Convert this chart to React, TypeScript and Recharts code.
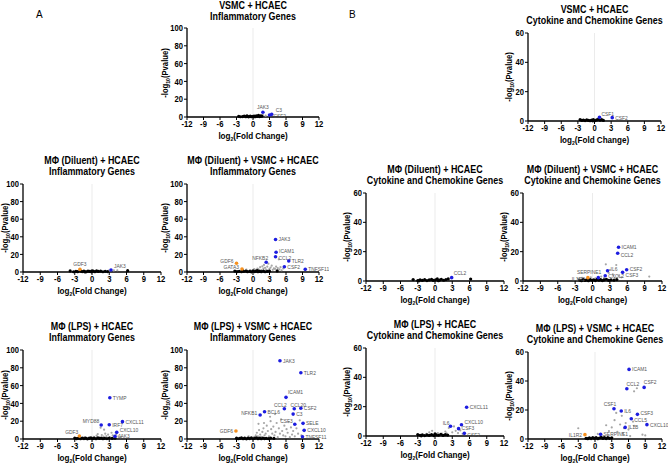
import React from "react";
import { ScatterChart, Scatter, XAxis, YAxis, ReferenceLine } from "recharts";

type Pt = [number, number];
type Gene = { gene: string; x: number; y: number };
type Offset = [number, number, "start" | "middle" | "end"];

const FONT = "'Liberation Sans', Arial, sans-serif";
const BLUE = "#1d1de0";
const ORANGE = "#f5901e";
const GREY = "#a6a6a6";
const SQUEEZE = 0.85;

const xTicks = [-12, -9, -6, -3, 0, 3, 6, 9, 12];
const inflTicks = [0, 20, 40, 60, 80, 100];
const cytoTicks = [0, 20, 40, 60];

// ---- A: VSMC + HCAEC, inflammatory
const aTopBlack: Pt[] = [
  [-2.6, 0.8], [-2.3, 0.3], [-1.9, 0.5], [-1.6, 1.0], [-1.3, 0.4], [-1.1, 1.3], [-1.0, 0.7],
  [-0.8, 0.2], [-0.5, 0.9], [-0.3, 0.4], [0, 0.6], [0.1, 0.2], [0.2, 1.1], [0.4, 0.3],
  [0.6, 1.4], [0.8, 0.7], [1.0, 1.8], [1.2, 0.5], [1.4, 1.2], [1.6, 0.9],
];
const aTopGrey: Pt[] = [[1.8, 2.2], [2.3, 1.5]];
const aTopBlue: Gene[] = [
  { gene: "JAK3", x: 1.8, y: 5.3 },
  { gene: "C3", x: 3.4, y: 3.0 },
  { gene: "CSF2", x: 3.0, y: 2.2 },
];

// ---- A: MΦ (Diluent) + HCAEC, inflammatory
const aMidLBlack: Pt[] = [
  [-3.8, 1.2], [-3.2, 0.3], [-2.8, 0.8], [-2.5, 0.4], [-2.0, 1.0], [-1.7, 0.5], [-1.4, 0.9],
  [-1.2, 0.1], [-1.0, 0.3], [-0.7, 1.1], [-0.4, 0.6], [-0.1, 0.2], [0, 1.4], [0.2, 0.9],
  [0.5, 0.4], [0.8, 1.2], [1.1, 0.6], [1.5, 0.9], [1.9, 0.3], [2.3, 0.8], [2.7, 0.5], [6.2, 1.5],
];
const aMidLGrey: Pt[] = [[2.9, 1.5], [3.8, 1.8], [4.4, 2.0]];
const aMidLBlue: Gene[] = [{ gene: "JAK3", x: 3.3, y: 2.3 }];
const aMidLOrange: Gene[] = [{ gene: "GDF3", x: -2.1, y: 3.0 }];

// ---- A: MΦ (Diluent) + VSMC + HCAEC, inflammatory
const aMidRBlack: Pt[] = [
  [-3.3, 1.0], [-2.9, 0.4], [-2.5, 0.8], [-2.1, 0.3], [-1.9, 1.5], [-1.7, 0.6], [-1.3, 1.1],
  [-1.0, 0.4], [-0.6, 0.8], [-0.3, 0.2], [0, 1.2], [0.3, 0.5], [0.6, 0.9], [0.8, 1.6],
  [0.9, 0.3], [1.2, 0.7], [1.5, 0.4], [1.9, 1.0], [2.2, 0.3], [2.6, 0.6], [3.0, 0.9], [4.4, 1.2],
];
const aMidRGrey: Pt[] = [
  [-1.2, 2.8], [-0.5, 2.2], [0.2, 3.2], [0.5, 2.5], [0.8, 4.0], [1.0, 3.0], [1.1, 1.8],
  [1.3, 5.5], [1.5, 2.2], [1.7, 6.5], [1.9, 3.8], [2.0, 8.0], [2.2, 4.8], [2.4, 2.8],
  [2.6, 6.0], [2.8, 9.5], [2.9, 2.0], [3.0, 3.5], [3.2, 5.0], [3.4, 7.2], [3.6, 2.5],
  [3.8, 4.2], [4.0, 3.5], [4.2, 6.0], [4.5, 4.5], [4.7, 14.4], [4.8, 3.0], [5.0, 5.5],
  [5.2, 2.0], [5.5, 4.0],
];
const aMidRBlue: Gene[] = [
  { gene: "JAK3", x: 4.1, y: 37 },
  { gene: "ICAM1", x: 4.2, y: 22.4 },
  { gene: "CCL2", x: 4.1, y: 17.4 },
  { gene: "TLR2", x: 6.5, y: 12.5 },
  { gene: "NFKB2", x: 2.4, y: 11 },
  { gene: "CSF2", x: 5.7, y: 6 },
  { gene: "TNFSF11", x: 9.5, y: 3 },
];
const aMidROrange: Gene[] = [
  { gene: "GDF6", x: -3.0, y: 10 },
  { gene: "GATA3", x: -2.0, y: 3.4 },
];

// ---- A: MΦ (LPS) + HCAEC, inflammatory
const aBotLBlack: Pt[] = [
  [-3.0, 1.0], [-2.7, 0.4], [-2.4, 0.8], [-2.0, 0.3], [-1.7, 1.1], [-1.4, 0.5], [-1.1, 0.9],
  [-0.8, 0.2], [-0.5, 0.7], [-0.2, 1.2], [0.1, 0.4], [0.4, 0.9], [0.7, 0.3], [1.0, 1.3],
  [1.3, 0.6], [1.6, 1.0], [1.9, 0.4], [2.2, 0.8], [2.6, 0.5], [3.0, 1.0], [3.5, 0.6], [4.0, 0.9],
];
const aBotLGrey: Pt[] = [
  [-1.3, 2.2], [-0.5, 1.8], [0.3, 2.5], [0.8, 3.8], [1.0, 5.5], [1.2, 1.9], [1.5, 12.7],
  [1.7, 4.5], [2.0, 2.8], [2.1, 10.5], [2.3, 6.0], [2.5, 3.2], [2.8, 5.0], [3.1, 2.0],
  [3.4, 7.0], [3.6, 4.0], [3.9, 2.5], [4.2, 5.5], [4.6, 3.0], [5.0, 2.2],
];
const aBotLBlue: Gene[] = [
  { gene: "TYMP", x: 3.1, y: 46.4 },
  { gene: "MYD88", x: 1.6, y: 15.7 },
  { gene: "IRF7", x: 3.0, y: 16 },
  { gene: "CXCL11", x: 5.3, y: 19.5 },
  { gene: "CXCL10", x: 4.3, y: 7.5 },
  { gene: "JAK3", x: 4.0, y: 3 },
];
const aBotLOrange: Gene[] = [{ gene: "GDF3", x: -2.2, y: 3.4 }];

// ---- A: MΦ (LPS) + VSMC + HCAEC, inflammatory
const aBotRBlack: Pt[] = [
  [-3.0, 0.9], [-2.7, 0.3], [-2.4, 0.7], [-2.1, 1.2], [-1.8, 0.4], [-1.5, 0.8], [-1.2, 0.2],
  [-0.9, 1.0], [-0.6, 0.5], [-0.3, 1.3], [0, 0.3], [0.3, 0.8], [0.6, 1.4], [0.9, 0.4],
  [1.2, 0.9], [1.5, 0.3], [1.8, 1.1], [2.1, 0.5], [2.4, 0.8], [2.8, 0.4], [3.2, 1.0], [3.8, 0.6],
];
const aBotRGrey: Pt[] = [
  [-1.5, 2], [-0.8, 3], [0.2, 2], [0.4, 1.5], [0.5, 4], [0.7, 7], [0.9, 3], [1.0, 17],
  [1.1, 10], [1.3, 5], [1.5, 2.5], [1.7, 8], [1.9, 12], [2.0, 18], [2.1, 4], [2.3, 6],
  [2.5, 15], [2.7, 9], [2.9, 3], [3.1, 25], [3.2, 20], [3.3, 11], [3.5, 6], [3.7, 14],
  [3.9, 4], [4.0, 28], [4.1, 8], [4.3, 18], [4.5, 2], [4.7, 12], [4.9, 6], [5.1, 22],
  [5.3, 9], [5.5, 4], [5.7, 15], [5.9, 3], [6.1, 11], [6.3, 7], [6.5, 19], [6.7, 2],
  [6.9, 13], [7.1, 5], [7.3, 9], [7.6, 3], [7.9, 12], [8.2, 6], [8.5, 21], [8.8, 4],
];
const aBotRBlue: Gene[] = [
  { gene: "JAK3", x: 4.9, y: 88 },
  { gene: "TLR2", x: 8.7, y: 74.5 },
  { gene: "ICAM1", x: 6.0, y: 46.8 },
  { gene: "CCL2", x: 5.7, y: 34 },
  { gene: "CCL20", x: 7.5, y: 34 },
  { gene: "CSF2", x: 8.7, y: 34.5 },
  { gene: "C3", x: 7.3, y: 28 },
  { gene: "BCL6", x: 2.1, y: 30.7 },
  { gene: "NFKB1", x: 1.3, y: 27 },
  { gene: "CSF3", x: 7.6, y: 16.5 },
  { gene: "SELE", x: 9.1, y: 17.6 },
  { gene: "CXCL10", x: 9.3, y: 9.7 },
  { gene: "TNFSF11", x: 9.0, y: 2.6 },
];
const aBotROrange: Gene[] = [{ gene: "GDF6", x: -3.1, y: 9 }];

// ---- B: VSMC + HCAEC, cytokine/chemokine
const bTopBlack: Pt[] = [
  [-2.6, 0.9], [-2.3, 0.4], [-2.0, 0.6], [-1.7, 0.3], [-1.4, 0.7], [-1.1, 0.4], [-0.8, 0.2],
  [-0.5, 0.6], [-0.3, 0.1], [-0.2, 0.9], [0.1, 0.3], [0.4, 0.7], [0.7, 1.2], [1.0, 0.5],
  [1.3, 1.0], [1.6, 0.4],
];
const bTopBlue: Gene[] = [
  { gene: "CSF1", x: 0.9, y: 2.5 },
  { gene: "CSF2", x: 3.2, y: 2.3 },
];

// ---- B: MΦ (Diluent) + HCAEC
const bMidLBlack: Pt[] = [
  [-3.8, 1.0], [-3.0, 0.3], [-2.8, 0.1], [-2.6, 0.8], [-2.2, 0.4], [-1.8, 0.9], [-1.4, 0.3],
  [-1.0, 0.7], [-0.6, 1.1], [-0.3, 0.4], [0.1, 0.8], [0.4, 1.4], [0.6, 0.2], [0.8, 0.6],
  [1.1, 1.2], [1.5, 0.5], [1.9, 1.0], [2.3, 1.4], [6.2, 1.3],
];
const bMidLBlue: Gene[] = [{ gene: "CCL2", x: 2.9, y: 2.3 }];

// ---- B: MΦ (Diluent) + VSMC + HCAEC
const bMidRBlack: Pt[] = [
  [-2.2, 0.6], [-1.9, 0.2], [-1.6, 0.9], [-1.3, 0.4], [-1.0, 0.7], [-0.7, 0.2], [-0.4, 1.0],
  [-0.1, 0.5], [0.2, 0.8], [0.5, 0.3], [0.8, 1.1], [1.1, 0.5], [1.4, 0.9], [1.7, 0.3],
  [2.0, 0.7], [2.4, 1.2], [2.8, 0.4], [3.2, 0.8], [3.7, 0.5], [4.2, 1.0],
];
const bMidRGrey: Pt[] = [
  [-2.5, 1.5], [-1.8, 2.2], [-0.3, 2.5], [0.5, 1.8], [1.5, 3.0], [2.0, 2.0], [2.3, 11.4],
  [2.8, 5.5], [3.0, 7.5], [3.5, 4.5], [3.8, 1.9], [4.1, 10.9], [4.5, 3.5], [5.0, 2.5], [9.8, 3.0],
];
const bMidRBlue: Gene[] = [
  { gene: "ICAM1", x: 4.5, y: 23 },
  { gene: "CCL2", x: 4.35, y: 18.9 },
  { gene: "CSF2", x: 5.9, y: 7.7 },
  { gene: "CSF3", x: 5.2, y: 5.9 },
  { gene: "IL6", x: 2.6, y: 7 },
  { gene: "CXCL2", x: 2.2, y: 3.6 },
  { gene: "SERPINE1", x: 1.0, y: 2.3 },
];
const bMidROrange: Gene[] = [{ gene: "IL1R2", x: -0.8, y: 2.3 }];

// ---- B: MΦ (LPS) + HCAEC
const bBotLBlack: Pt[] = [
  [-3.0, 1.0], [-2.6, 0.5], [-2.4, 0.1], [-2.2, 0.8], [-1.8, 0.3], [-1.4, 0.7], [-1.0, 0.4],
  [-0.6, 1.0], [-0.2, 0.3], [0, 1.4], [0.2, 0.8], [0.6, 0.5], [1.0, 1.2], [1.4, 0.4],
  [1.8, 0.9], [2.2, 0.6],
];
const bBotLGrey: Pt[] = [
  [-1.5, 1.5], [-1.0, 2.5], [-0.5, 3.5], [0.5, 2.0], [1.2, 1.6], [1.8, 3.0], [2.0, 1.8],
  [2.4, 5.5], [3.0, 2.5], [3.3, 6.5], [3.6, 3.5], [4.0, 2.0], [4.4, 3.8], [4.8, 1.5],
];
const bBotLBlue: Gene[] = [
  { gene: "CXCL11", x: 5.5, y: 19.6 },
  { gene: "CXCL10", x: 4.6, y: 7.7 },
  { gene: "CSF3", x: 4.1, y: 5 },
  { gene: "IL6", x: 2.7, y: 6.6 },
  { gene: "CSF2", x: 5.1, y: 1.8 },
];

// ---- B: MΦ (LPS) + VSMC + HCAEC
const bBotRBlack: Pt[] = [
  [-1.6, 0.5], [-1.3, 0.2], [-1.0, 0.8], [-0.7, 0.3], [-0.4, 1.0], [-0.1, 0.4], [0.2, 0.9],
  [0.5, 0.2], [0.8, 0.7], [1.1, 1.2], [1.4, 0.4], [1.7, 0.9], [2.0, 0.3], [2.3, 1.0],
  [2.6, 0.5], [3.0, 0.8],
];
const bBotRGrey: Pt[] = [
  [-3.0, 7.4], [0.5, 3.5], [1.5, 2.0], [2.0, 9.5], [2.5, 5.5], [3.0, 8.0], [3.5, 13],
  [3.8, 18], [4.0, 5.0], [4.5, 10], [4.8, 16], [5.0, 4.0], [5.2, 7.5], [5.5, 11],
  [6.0, 6.5], [6.3, 2.0], [6.8, 12], [7.0, 9.0], [7.0, 32.9], [7.5, 35], [8.5, 3.0], [9.0, 2.5],
];
const bBotRBlue: Gene[] = [
  { gene: "ICAM1", x: 6.1, y: 48 },
  { gene: "CCL2", x: 5.7, y: 34.7 },
  { gene: "CSF2", x: 8.8, y: 35.6 },
  { gene: "CSF1", x: 3.4, y: 20.9 },
  { gene: "IL6", x: 4.7, y: 19.3 },
  { gene: "CSF3", x: 7.6, y: 17 },
  { gene: "CCL5", x: 6.5, y: 14 },
  { gene: "IL1B", x: 5.4, y: 8 },
  { gene: "CXCL10", x: 9.3, y: 9.9 },
  { gene: "SERPINE1", x: 1.0, y: 3.2 },
];
const bBotROrange: Gene[] = [{ gene: "IL1R2", x: -1.8, y: 3 }];

type Panel = {
  title: string;
  subtitle: string;
  px: number;
  py: number;
  pw: number;
  ph: number;
  yMax: number;
  yTicks: number[];
  black: Pt[];
  grey: Pt[];
  blue: Gene[];
  orange: Gene[];
  offsets: Record<string, Offset>;
};

const INFL = "Inflammatory Genes";
const CYTO = "Cytokine and Chemokine Genes";

const panels: Panel[] = [
  {
    title: "VSMC + HCAEC", subtitle: INFL, px: 187, py: 28, pw: 132, ph: 89,
    yMax: 100, yTicks: inflTicks, black: aTopBlack, grey: aTopGrey, blue: aTopBlue, orange: [],
    offsets: { JAK3: [0, -5, "middle"], C3: [4, -4, "start"], CSF2: [4, 1, "start"] },
  },
  {
    title: "MΦ (Diluent) + HCAEC", subtitle: INFL, px: 23, py: 184, pw: 138, ph: 88,
    yMax: 100, yTicks: inflTicks, black: aMidLBlack, grey: aMidLGrey, blue: aMidLBlue, orange: aMidLOrange,
    offsets: { JAK3: [3, -4, "start"], GDF3: [0, -5, "middle"] },
  },
  {
    title: "MΦ (Diluent) + VSMC + HCAEC", subtitle: INFL, px: 187, py: 184, pw: 132, ph: 88,
    yMax: 100, yTicks: inflTicks, black: aMidRBlack, grey: aMidRGrey, blue: aMidRBlue, orange: aMidROrange,
    offsets: {
      ICAM1: [3, -1.5, "start"], CCL2: [3, 1.5, "start"],
      NFKB2: [-6, -4, "middle"], GDF6: [-3, -2, "end"], GATA3: [-3, -2, "end"],
    },
  },
  {
    title: "MΦ (LPS) + HCAEC", subtitle: INFL, px: 23, py: 350, pw: 138, ph: 89,
    yMax: 100, yTicks: inflTicks, black: aBotLBlack, grey: aBotLGrey, blue: aBotLBlue, orange: aBotLOrange,
    offsets: { MYD88: [-2, -4, "end"], CXCL10: [3, -2, "start"], GDF3: [-1, -4, "end"] },
  },
  {
    title: "MΦ (LPS) + VSMC + HCAEC", subtitle: INFL, px: 187, py: 350, pw: 132, ph: 89,
    yMax: 100, yTicks: inflTicks, black: aBotRBlack, grey: aBotRGrey, blue: aBotRBlue, orange: aBotROrange,
    offsets: {
      ICAM1: [2, -5, "start"], CCL2: [-4, -4, "middle"], CCL20: [4, -4, "middle"],
      NFKB1: [-3, -2, "end"], CSF3: [-2, -3, "end"], GDF6: [-3, 0, "end"],
    },
  },
  {
    title: "VSMC + HCAEC", subtitle: CYTO, px: 528, py: 33, pw: 133, ph: 88,
    yMax: 60, yTicks: cytoTicks, black: bTopBlack, grey: [], blue: bTopBlue, orange: [],
    offsets: { CSF1: [2, -3, "start"] },
  },
  {
    title: "MΦ (Diluent) + HCAEC", subtitle: CYTO, px: 366, py: 193, pw: 138, ph: 88,
    yMax: 60, yTicks: cytoTicks, black: bMidLBlack, grey: [], blue: bMidLBlue, orange: [],
    offsets: { CCL2: [2, -5, "start"] },
  },
  {
    title: "MΦ (Diluent) + VSMC + HCAEC", subtitle: CYTO, px: 523, py: 193, pw: 139, ph: 88,
    yMax: 60, yTicks: cytoTicks, black: bMidRBlack, grey: bMidRGrey, blue: bMidRBlue, orange: bMidROrange,
    offsets: {
      CCL2: [3, 2, "start"], CSF2: [3, -1, "start"], CSF3: [3, 3, "start"], IL6: [3, -2, "start"],
      SERPINE1: [3, -6, "end"], IL1R2: [-3, 1.5, "end"],
    },
  },
  {
    title: "MΦ (LPS) + HCAEC", subtitle: CYTO, px: 366, py: 348, pw: 138, ph: 88,
    yMax: 60, yTicks: cytoTicks, black: bBotLBlack, grey: bBotLGrey, blue: bBotLBlue, orange: [],
    offsets: { IL6: [-1, -3, "end"], CXCL10: [3, -2.5, "start"], CSF3: [3, -0.5, "start"], CSF2: [3, 2, "start"] },
  },
  {
    title: "MΦ (LPS) + VSMC + HCAEC", subtitle: CYTO, px: 528, py: 352, pw: 134, ph: 87,
    yMax: 60, yTicks: cytoTicks, black: bBotRBlack, grey: bBotRGrey, blue: bBotRBlue, orange: bBotROrange,
    offsets: {
      CCL2: [6, -5, "middle"], CSF2: [6, -5, "middle"], CSF1: [-4, -5, "middle"],
      CSF3: [3, -1.5, "start"], CCL5: [3, 1.5, "start"], IL1R2: [-3, 0, "end"],
    },
  },
];

const toRows = (pts: Pt[]) => pts.map(([x, y]) => ({ x, y }));

function plainDot(color: string, r: number) {
  return (p: any) => <circle cx={p.cx} cy={p.cy} r={r} fill={color} />;
}

function geneDot(color: string, offsets: Record<string, Offset>) {
  return (p: any) => {
    const o = offsets[p.payload.gene] ?? [3, 0, "start"];
    return (
      <g>
        <circle cx={p.cx} cy={p.cy} r={1.8} fill={color} />
        <g transform={`translate(${p.cx + o[0]},${p.cy + o[1]}) scale(${SQUEEZE},1)`}>
          <text dy="0.35em" textAnchor={o[2]} fontSize={5.8} fill="#555" fontFamily={FONT}>
            {p.payload.gene}
          </text>
        </g>
      </g>
    );
  };
}

function XTick(props: any) {
  const { x, y, payload } = props;
  return (
    <g transform={`translate(${x},${y}) scale(${SQUEEZE},1)`}>
      <text dy="0.72em" textAnchor="middle" fontSize={9} fontWeight={700} fill="#000" fontFamily={FONT}>
        {payload.value}
      </text>
    </g>
  );
}

function YTick(props: any) {
  const { x, y, payload } = props;
  return (
    <g transform={`translate(${x},${y}) scale(${SQUEEZE},1)`}>
      <text dy="0.35em" textAnchor="end" fontSize={9} fontWeight={700} fill="#000" fontFamily={FONT}>
        {payload.value}
      </text>
    </g>
  );
}

const subStyle: React.CSSProperties = { fontSize: 6, verticalAlign: "-2px" };

function Volcano({ panel }: { panel: Panel }) {
  const { px, py, pw, ph } = panel;
  const yw = 36;
  const xh = 22;
  // rotated y title sits a bit closer when tick labels are only two digits
  const yLabelX = Math.max(px - (panel.yMax >= 100 ? 22 : 19), 5);
  return (
    <>
      <div
        style={{
          position: "absolute", left: px - 80, width: pw + 160, top: Math.max(py - 29, 0),
          textAlign: "center", fontWeight: 700, fontSize: 10.5, lineHeight: "11px",
          transform: `scaleX(${SQUEEZE})`,
        }}
      >
        {panel.title}
        <br />
        {panel.subtitle}
      </div>
      <div style={{ position: "absolute", left: px - yw, top: py - 6 }}>
        <ScatterChart width={pw + yw + 10} height={ph + 6 + xh} margin={{ top: 6, right: 10, bottom: 0, left: 0 }}>
          <XAxis
            type="number" dataKey="x" domain={[-12, 12]} ticks={xTicks} interval={0}
            tick={<XTick />} tickSize={3} tickMargin={1} height={xh}
            axisLine={{ stroke: "#000", strokeWidth: 1.3 }} tickLine={{ stroke: "#000" }}
          />
          <YAxis
            type="number" dataKey="y" domain={[0, panel.yMax]} ticks={panel.yTicks} interval={0}
            tick={<YTick />} tickSize={3} tickMargin={1} width={yw}
            axisLine={{ stroke: "#000", strokeWidth: 1.3 }} tickLine={{ stroke: "#000" }}
          />
          <ReferenceLine x={0} stroke="#e6e6e6" strokeWidth={0.8} />
          <Scatter data={toRows(panel.grey)} shape={plainDot(GREY, 1.1)} isAnimationActive={false} />
          <Scatter data={toRows(panel.black)} shape={plainDot("#000", 1.6)} isAnimationActive={false} />
          <Scatter data={panel.orange} shape={geneDot(ORANGE, panel.offsets)} isAnimationActive={false} />
          <Scatter data={panel.blue} shape={geneDot(BLUE, panel.offsets)} isAnimationActive={false} />
        </ScatterChart>
      </div>
      <div
        style={{
          position: "absolute", left: yLabelX - 60, top: py + ph / 2 - 6, width: 120, height: 12,
          transform: `rotate(-90deg) scaleX(${SQUEEZE})`, textAlign: "center", fontWeight: 700,
          fontSize: 9, lineHeight: "12px",
        }}
      >
        -log<sub style={subStyle}>10</sub>(Pvalue)
      </div>
      <div
        style={{
          position: "absolute", left: px - 20, width: pw + 40, top: py + ph + 13,
          textAlign: "center", fontWeight: 700, fontSize: 9.5, lineHeight: "12px",
          transform: `scaleX(${SQUEEZE})`,
        }}
      >
        log<sub style={subStyle}>2</sub>(Fold Change)
      </div>
    </>
  );
}

export default function App() {
  return (
    <div
      style={{
        position: "absolute", left: 0, top: 0, width: 668, height: 463,
        background: "#fff", fontFamily: FONT, color: "#000", overflow: "hidden",
      }}
    >
      <div style={{ position: "absolute", left: 36, top: 9, fontSize: 10 }}>A</div>
      <div style={{ position: "absolute", left: 349, top: 9, fontSize: 10 }}>B</div>
      {panels.map((p, i) => (
        <Volcano key={i} panel={p} />
      ))}
    </div>
  );
}
